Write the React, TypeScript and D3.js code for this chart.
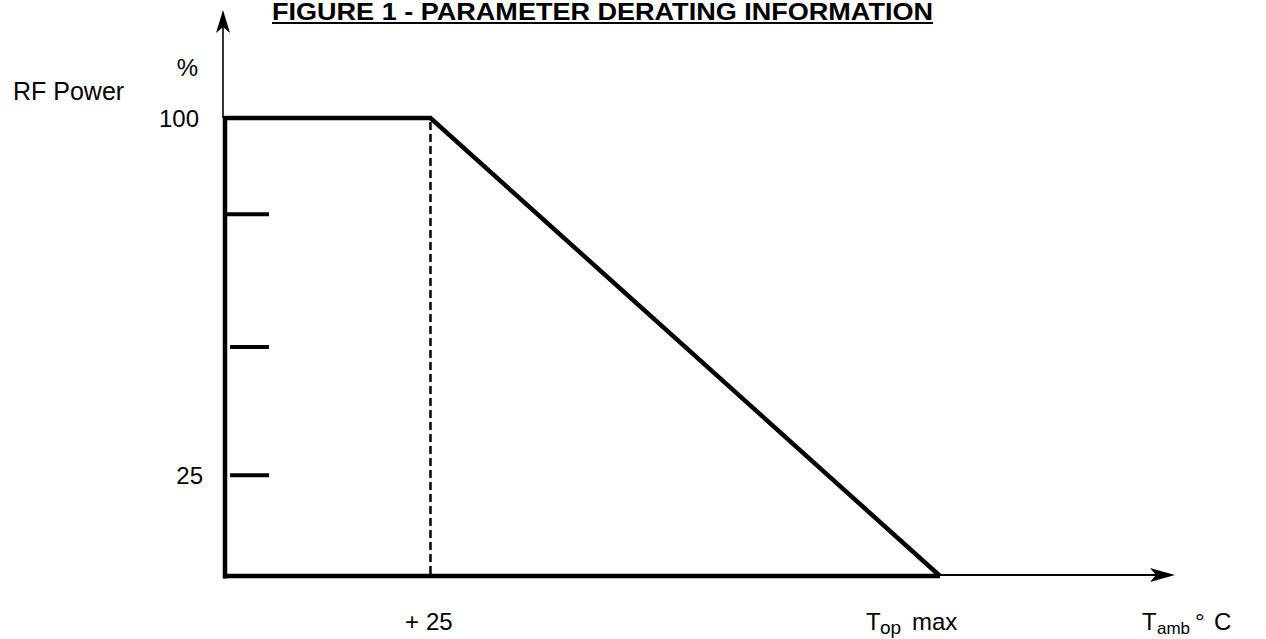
import React from "react";
import * as d3 from "d3";

// ---- data ----
const deratingTemps = [0, 25, 87]; // °C: origin, +25, T_op max (schematic)
const deratingPower = [100, 100, 0]; // % RF power
const dashedAtTemp = 25;
const yTickValues = [79, 50, 22]; // tick marks on the power axis (as drawn)
const yLabelTicks = [
  { value: 100, label: "100" },
  { value: 22, label: "25" },
];
const titleText = "FIGURE 1 - PARAMETER DERATING INFORMATION";

const W = 1266;
const H = 639;

export default function App() {
  const x = d3.scaleLinear().domain([0, 87]).range([225, 940]);
  const y = d3.scaleLinear().domain([0, 100]).range([576, 118]);

  const pts: [number, number][] = deratingTemps.map((t, i) => [x(t), y(deratingPower[i])]);
  const line = d3.line<[number, number]>().x((d) => d[0]).y((d) => d[1]);

  const font = "'Liberation Sans', Arial, Helvetica, sans-serif";
  const x0 = x(0);
  const y0 = y(0);

  return (
    <svg
      width={W}
      height={H}
      style={{ position: "absolute", left: 0, top: 0, background: "#fff" }}
      fontFamily={font}
    >
      {/* title */}
      <text x={272} y={20} fontSize={23} fontWeight="bold" textLength={661} lengthAdjust="spacingAndGlyphs" fill="#000">
        {titleText}
      </text>
      <line x1={272} x2={933} y1={23} y2={23} stroke="#000" strokeWidth={2} />

      {/* y axis: thin arrow part */}
      <line x1={x0 - 2} x2={x0 - 2} y1={y(100)} y2={26} stroke="#000" strokeWidth={1.6} />
      <path d={`M${x0 - 2},10 L${x0 - 9},33 L${x0 - 2},27 L${x0 + 5},33 Z`} fill="#000" />
      {/* y axis thick part */}
      <line x1={x0} x2={x0} y1={y(100) - 2} y2={y0 + 2.5} stroke="#000" strokeWidth={4.5} />

      {/* x axis thick part */}
      <line x1={x0 - 2} x2={x(87)} y1={y0} y2={y0} stroke="#000" strokeWidth={4.5} />
      {/* x axis thin arrow part */}
      <line x1={x(87)} x2={1158} y1={y0 - 1} y2={y0 - 1} stroke="#000" strokeWidth={2} />
      <path d={`M1175,${y0 - 1} L1150,${y0 - 8} L1156,${y0 - 1} L1150,${y0 + 6} Z`} fill="#000" />

      {/* y tick marks */}
      {yTickValues.map((v, i) => (
        <line key={i} x1={i === 0 ? x0 : x0 + 5} x2={x0 + 44} y1={y(v)} y2={y(v)} stroke="#000" strokeWidth={4} />
      ))}

      {/* dashed vertical at +25 */}
      <line
        x1={x(dashedAtTemp)}
        x2={x(dashedAtTemp)}
        y1={y(100) + 4}
        y2={y0 - 2}
        stroke="#000"
        strokeWidth={2.5}
        strokeDasharray="8,4"
      />

      {/* derating curve */}
      <path d={line(pts) || ""} fill="none" stroke="#000" strokeWidth={4.5} strokeLinejoin="miter" />

      {/* labels */}
      <text x={13} y={100} fontSize={25} fill="#000">RF Power</text>
      <text x={198} y={76} fontSize={24} textAnchor="end" fill="#000">%</text>
      {yLabelTicks.map((t) => (
        <text key={t.label} x={t.label === "100" ? 199 : 203} y={y(t.value) + 9} fontSize={24} textAnchor="end" fill="#000">
          {t.label}
        </text>
      ))}

      <text y={630} fontSize={24} fill="#000">
        <tspan x={405}>+</tspan>
        <tspan x={426}>25</tspan>
      </text>

      <text y={630} fontSize={24} fill="#000">
        <tspan x={866}>T</tspan>
        <tspan x={880} dy={4} fontSize={19}>op</tspan>
        <tspan x={912} dy={-4}>max</tspan>
      </text>

      <text y={630} fontSize={24} fill="#000">
        <tspan x={1142}>T</tspan>
        <tspan x={1157} dy={4} fontSize={17}>amb</tspan>
        <tspan x={1195} dy={-4}>°</tspan>
        <tspan x={1214}>C</tspan>
      </text>
    </svg>
  );
}
